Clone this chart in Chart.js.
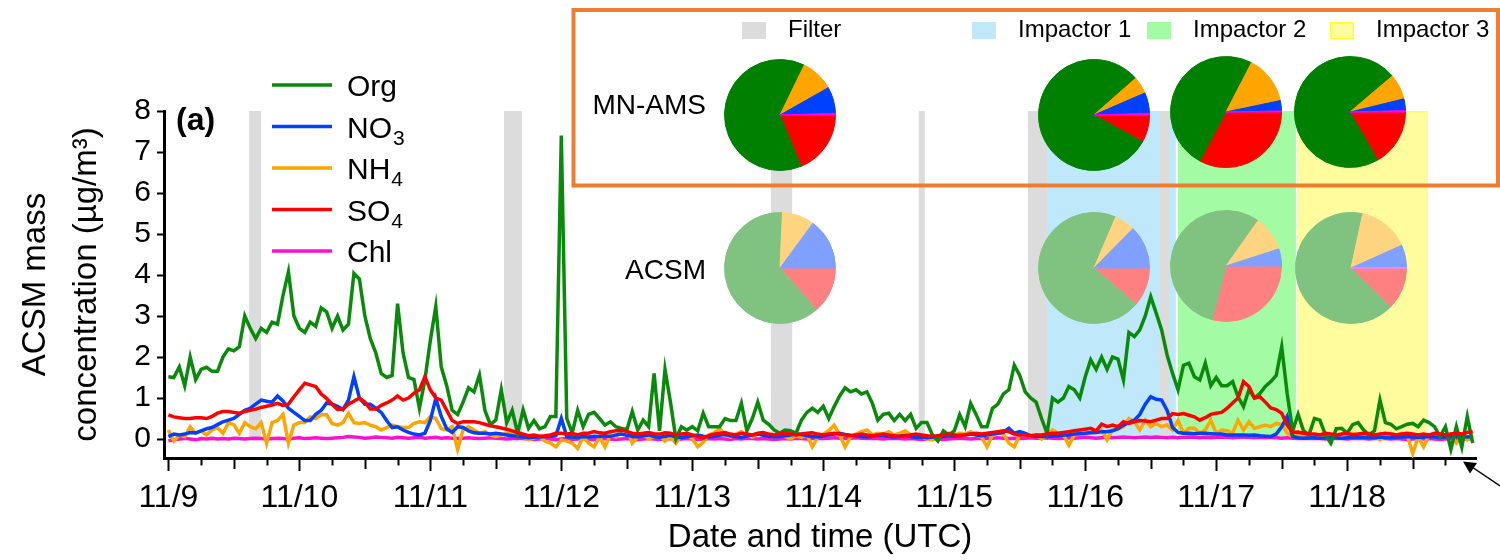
<!DOCTYPE html>
<html>
<head>
<meta charset="utf-8">
<script src="https://cdn.jsdelivr.net/npm/chart.js@4.4.1/dist/chart.umd.min.js"></script>
<style>
  html, body { margin: 0; padding: 0; background: #fff; }
  #wrap { position: relative; width: 1500px; height: 560px; }
  #wrap canvas { position: absolute; }
</style>
</head>
<body>
<div id="wrap">
  <canvas id="main" width="1500" height="560" style="left:0;top:0"></canvas>
</div>
<script>
// Fonte e cores
const FONT = "'Liberation Sans', Arial, sans-serif";

// --- DADOS ---
const dayLabels = ['11/9', '11/10', '11/11', '11/12', '11/13', '11/14', '11/15', '11/16', '11/17', '11/18'];
const yTickValues = [0, 1, 2, 3, 4, 5, 6, 7, 8];
const seriesNames = ['Org', 'NO3', 'NH4', 'SO4', 'Chl'];

// hourly values from 11/9 00:00 UTC (one per hour, 240 points)
const org = [
  1.52,1.5,1.76,1.3,2.0,1.45,1.7,1.75,1.65,1.65,
  2.0,2.2,2.15,2.25,3.0,2.7,2.45,2.7,2.6,2.85,
  2.8,3.5,4.08,3.0,2.7,2.6,2.85,2.75,3.2,3.1,
  2.7,3.0,2.66,2.8,4.04,3.9,3.0,2.45,2.1,1.6,
  1.5,1.55,3.3,2.1,1.5,1.45,0.75,1.44,2.4,3.23,
  1.76,1.3,0.7,0.6,0.9,1.25,1.15,1.56,0.7,0.35,
  0.46,1.2,0.4,0.7,0.14,0.71,0.26,0.45,0.25,0.3,
  0.55,0.55,7.4,0.5,0.15,0.7,0.3,0.6,0.65,0.5,
  0.34,0.42,0.3,0.26,0.22,0.67,0.22,0.46,0.3,1.6,
  0.2,1.7,0.9,0.0,0.3,0.22,0.3,0.2,0.63,0.3,
  0.3,0.3,0.5,0.45,0.45,0.87,0.2,0.5,0.9,0.46,
  0.36,0.22,0.14,0.22,0.2,0.14,0.46,0.65,0.75,0.65,
  0.8,0.5,0.79,1.05,1.25,1.15,1.2,1.1,1.15,0.87,
  0.46,0.6,0.63,0.45,0.6,0.45,0.6,0.26,0.4,0.4,
  0.1,-0.05,0.2,0.1,0.2,0.59,0.3,0.87,0.6,0.3,
  0.3,0.75,0.85,1.1,1.2,1.8,1.55,1.15,1.0,0.9,
  0.5,0.14,1.0,0.9,1.0,1.28,1.2,1.0,1.52,1.93,
  1.7,2.0,1.7,2.0,1.95,1.44,2.6,2.5,2.66,3.0,
  3.47,3.07,2.66,2.05,1.6,1.2,1.8,1.85,1.52,1.44,
  1.85,1.3,1.5,1.3,1.3,1.4,1.03,0.79,1.2,1.0,
  1.11,1.28,1.4,1.55,2.25,1.11,0.2,0.6,0.2,0.1,
  0.5,0.46,0.1,-0.1,0.25,0.26,0.14,0.35,0.4,0.22,
  0.1,0.2,0.95,0.4,0.36,0.25,0.3,0.36,0.38,0.3,
  0.46,0.4,0.3,0.06,0.3,-0.25,0.3,-0.2,0.55,-0.1
];
const no3 = [
  0.06,0.12,0.1,0.12,0.16,0.15,0.2,0.25,0.28,0.35,
  0.42,0.46,0.5,0.6,0.7,0.75,0.85,0.95,0.92,0.9,
  1.05,0.93,0.75,0.65,0.55,0.45,0.45,0.6,0.7,0.88,
  0.85,0.8,0.72,0.95,1.52,1.0,0.85,0.85,0.75,0.65,
  0.45,0.28,0.3,0.22,0.16,0.12,0.1,0.14,0.45,0.99,
  0.55,0.25,0.16,0.3,0.28,0.2,0.15,0.14,0.14,0.12,
  0.14,0.12,0.1,0.08,0.06,0.05,0.03,0.04,0.05,0.06,
  0.06,0.08,0.5,0.06,0.05,0.04,0.06,0.05,0.07,0.06,
  0.08,0.06,0.1,0.12,0.09,0.07,0.05,0.08,0.1,0.06,
  0.04,0.07,0.09,0.05,0.03,0.06,0.08,0.1,0.07,0.05,
  0.06,0.09,0.11,0.08,0.06,0.04,0.07,0.1,0.12,0.09,
  0.07,0.05,0.06,0.08,0.1,0.13,0.11,0.08,0.06,0.05,
  0.07,0.1,0.12,0.14,0.11,0.09,0.08,0.06,0.05,0.07,
  0.09,0.08,0.06,0.05,0.07,0.09,0.06,0.04,0.05,0.03,
  0.05,0.04,0.06,0.08,0.07,0.09,0.1,0.12,0.1,0.08,
  0.1,0.12,0.14,0.16,0.26,0.14,0.18,0.14,0.08,0.07,
  0.06,0.06,0.07,0.08,0.1,0.1,0.12,0.13,0.14,0.15,
  0.16,0.18,0.18,0.2,0.25,0.34,0.4,0.46,0.6,0.85,
  1.03,0.97,0.95,0.7,0.28,0.16,0.14,0.14,0.13,0.14,
  0.14,0.13,0.12,0.12,0.1,0.1,0.1,0.1,0.09,0.1,
  0.08,0.07,0.06,0.12,0.3,0.55,0.06,0.03,0.02,0.03,
  0.03,0.02,0.03,0.04,0.03,0.02,0.03,0.04,0.05,0.04,
  0.03,0.04,0.05,0.04,0.03,0.04,0.05,0.06,0.05,0.04,
  0.05,0.06,0.05,0.04,0.05,0.06,0.07,0.06,0.05,0.06
];
const nh4 = [
  0.22,-0.05,0.1,0.06,0.3,0.14,0.2,0.1,0.22,0.28,
  0.14,0.4,0.35,0.14,0.4,0.3,0.25,0.4,-0.1,0.4,
  0.45,0.6,-0.1,0.34,0.4,0.4,0.54,0.5,0.59,0.59,
  0.38,0.34,0.4,0.63,0.4,0.38,0.4,0.34,0.3,0.22,
  0.28,0.34,0.3,0.28,0.28,0.38,0.42,0.4,0.55,0.5,
  0.25,0.22,0.3,-0.25,0.22,0.3,0.22,0.14,0.18,0.1,
  0.06,0.1,0.14,0.12,0.1,0.05,-0.02,0.02,0.06,-0.05,
  -0.1,-0.19,-0.02,-0.05,-0.1,-0.23,0.06,-0.1,-0.19,0.05,
  -0.19,0.1,0.05,0.2,0.26,-0.1,0.05,0.12,0.0,0.06,
  0.1,-0.05,0.05,-0.1,0.08,0.12,0.0,-0.19,-0.08,0.1,
  0.15,0.26,0.1,0.05,0.12,0.18,0.1,0.05,0.12,0.14,
  0.08,0.05,0.1,0.06,0.0,0.08,0.04,0.1,-0.19,0.05,
  0.12,0.2,0.34,0.1,-0.19,0.05,0.12,0.18,0.22,0.1,
  0.14,0.12,0.18,0.1,0.14,0.2,0.1,0.06,0.05,0.0,
  -0.02,0.08,0.1,0.14,0.1,0.14,0.12,0.18,0.1,0.05,
  -0.19,0.1,0.14,0.12,-0.1,-0.19,0.1,0.14,0.06,0.1,
  0.0,0.1,0.22,0.14,0.1,-0.15,0.1,0.14,0.14,0.16,
  0.18,0.22,-0.02,0.22,0.25,0.3,0.5,0.42,0.22,0.46,
  0.3,0.38,0.3,0.34,0.22,0.46,0.14,0.26,0.26,0.14,
  0.22,0.46,0.14,0.22,0.2,0.14,0.46,0.22,0.42,0.26,
  0.3,0.34,0.3,0.38,0.35,0.14,0.06,0.1,0.08,0.1,
  0.06,0.1,0.14,0.1,0.05,0.12,0.1,0.14,0.1,0.05,
  0.14,0.1,-0.02,0.08,0.14,0.1,0.14,0.1,-0.35,0.05,
  -0.19,0.1,0.06,0.1,0.08,0.12,-0.1,0.05,-0.02,0.1
];
const so4 = [
  0.59,0.54,0.52,0.5,0.5,0.52,0.52,0.5,0.55,0.63,
  0.67,0.67,0.65,0.63,0.67,0.7,0.73,0.77,0.8,0.83,
  0.87,0.82,0.85,1.03,1.2,1.36,1.32,1.28,1.1,0.99,
  0.85,0.72,0.73,0.85,0.92,1.0,0.9,0.73,0.73,0.82,
  0.88,0.95,1.05,0.95,1.0,1.12,1.2,1.52,1.2,1.0,
  0.95,0.7,0.45,0.38,0.42,0.42,0.42,0.4,0.36,0.32,
  0.3,0.27,0.24,0.2,0.16,0.12,0.08,0.1,0.07,0.08,
  0.1,0.14,0.14,0.12,0.14,0.1,0.14,0.14,0.18,0.15,
  0.14,0.18,0.2,0.22,0.18,0.14,0.12,0.14,0.16,0.13,
  0.12,0.15,0.14,0.1,0.12,0.14,0.1,0.06,0.02,0.08,
  0.12,0.14,0.16,0.12,0.1,0.14,0.12,0.1,0.14,0.16,
  0.12,0.1,0.12,0.14,0.12,0.1,0.12,0.14,0.15,0.12,
  0.1,0.12,0.14,0.12,0.1,0.08,0.1,0.12,0.1,0.08,
  0.1,0.12,0.1,0.08,0.06,0.08,0.1,0.12,0.1,0.08,
  0.06,0.08,0.1,0.12,0.1,0.08,0.1,0.12,0.14,0.12,
  0.14,0.16,0.18,0.2,0.18,0.12,0.1,0.1,0.08,0.1,
  0.1,0.12,0.14,0.14,0.16,0.18,0.2,0.22,0.24,0.26,
  0.2,0.36,0.3,0.34,0.3,0.42,0.38,0.42,0.45,0.44,
  0.42,0.46,0.5,0.5,0.62,0.6,0.62,0.58,0.54,0.46,
  0.52,0.6,0.63,0.65,0.75,0.88,1.0,1.4,1.28,1.0,
  1.03,0.9,0.76,0.72,0.63,0.34,0.16,0.17,0.14,0.12,
  0.12,0.1,0.14,0.12,0.1,0.12,0.14,0.1,0.12,0.14,
  0.12,0.1,0.12,0.14,0.12,0.1,0.12,0.14,0.12,0.1,
  0.12,0.1,0.14,0.12,0.1,0.12,0.14,0.12,0.16,0.18
];
const chl = [
  -0.04,-0.02,0.0,0.02,0.0,-0.02,0.01,0.0,0.02,0.0,
  0.01,0.0,0.02,0.01,0.0,0.01,0.02,0.01,0.0,0.01,
  0.02,0.01,0.0,0.02,0.03,0.01,0.02,0.03,0.02,0.01,
  0.02,0.03,0.04,0.06,0.05,0.04,0.02,0.03,0.05,0.04,
  0.03,0.02,0.04,0.03,0.02,0.03,0.04,0.02,0.03,0.04,
  0.02,0.03,0.02,0.01,0.02,0.03,0.02,0.01,0.02,0.03,
  0.02,0.01,0.0,0.01,0.02,0.01,0.0,-0.01,0.0,0.01,
  0.0,-0.02,0.0,0.01,-0.01,0.0,0.01,0.0,-0.02,0.0,
  0.01,0.0,-0.01,0.0,0.01,0.0,-0.02,0.0,0.01,0.0,
  -0.01,0.0,0.01,-0.02,0.0,0.01,0.0,-0.01,0.0,0.01,
  0.0,0.01,0.0,-0.01,0.01,0.0,0.02,0.01,0.0,0.01,
  0.0,-0.01,0.0,0.01,0.0,0.02,0.01,0.0,0.01,0.02,
  0.01,0.02,0.03,0.02,0.01,0.02,0.03,0.02,0.01,0.02,
  0.01,0.0,0.01,0.02,0.01,0.0,0.01,0.0,-0.01,0.0,
  0.01,0.0,-0.01,0.0,0.01,0.02,0.01,0.0,0.01,0.02,
  0.01,0.02,0.03,0.02,0.01,0.02,0.01,0.02,0.03,0.02,
  0.02,0.03,0.02,0.01,0.02,0.03,0.02,0.03,0.04,0.03,
  0.02,0.03,0.04,0.03,0.04,0.05,0.04,0.03,0.04,0.05,
  0.04,0.05,0.04,0.03,0.04,0.03,0.04,0.05,0.04,0.03,
  0.04,0.03,0.04,0.05,0.04,0.03,0.04,0.05,0.04,0.03,
  0.04,0.03,0.04,0.03,0.02,0.03,0.02,0.01,0.02,0.01,
  0.02,0.01,0.0,0.01,0.02,0.01,0.0,0.01,0.02,0.01,
  0.0,0.01,0.02,0.01,0.0,0.01,0.0,-0.01,0.0,0.01,
  0.0,0.01,0.0,-0.01,0.0,0.01,0.0,0.01,0.0,0.01
];

// sampling periods (hours since 11/9 00:00)
const filterStart = [14.8, 61.5, 110.4, 137.5, 157.5, 181.7];
const filterEnd   = [17.0, 64.8, 114.3, 138.6, 161.0, 183.4];
const impactorNames = ['Impactor 1', 'Impactor 2', 'Impactor 3'];
const impactorStart = [161.0, 185.0, 206.8];
const impactorEnd   = [184.6, 206.6, 230.8];

// pie fractions (%) for Filter, Impactor 1, Impactor 2, Impactor 3
const amsOrg = [63.5, 80.5, 49.8, 72.1];
const amsNO3 = [7.7, 6.0, 3.0, 3.4];
const amsNH4 = [9.6, 5.0, 14.1, 7.4];
const amsSO4 = [18.8, 8.0, 32.8, 16.7];
const amsChl = [0.5, 0.5, 0.3, 0.4];
const acsmOrg = [62.1, 70.1, 55.8, 66.0];
const acsmNO3 = [14.9, 12.6, 5.0, 6.6];
const acsmNH4 = [9.4, 6.0, 10.2, 14.9];
const acsmSO4 = [13.6, 11.3, 29.0, 12.4];
const acsmChl = [0.0, 0.0, 0.0, 0.1];

// --- ESTILO ---
const lineColors = ['#0a8a0a', '#0040ff', '#ffa500', '#ff0000', '#ff10d0'];
const amsColors  = { org: '#008000', no3: '#0040ff', nh4: '#ffa500', so4: '#ff0000', chl: '#ff00ff' };
const acsmColors = { org: '#80c380', no3: '#80a0ff', nh4: '#ffd480', so4: '#ff8080', chl: '#ff80ff' };
const filterColor = '#dcdcdc';
const impactorColors = ['#c0e8fb', '#a3fca3', '#fffc9e'];
const boxColor = '#ed7d31';
const LINE_W = 3.5;

// pie centres in page pixels
const amsCentres  = [[780, 115], [1094, 115], [1226, 112], [1350, 112]];
const acsmCentres = [[780, 268], [1094, 268], [1226, 266], [1351, 268]];

const xTickHours = [];
dayLabels.forEach((d, i) => { [0, 6, 12, 18].forEach(h => xTickHours.push(i * 24 + h)); });

const toXY = arr => arr.map((v, i) => ({ x: i, y: v }));

// --- PLUGIN: sombreamento, legendas, caixa, seta ---
const decor = {
  id: 'decor',
  beforeDatasetsDraw(chart) {
    const { ctx, scales: { x, y } } = chart;
    const top = y.getPixelForValue(8), bot = y.getPixelForValue(0);
    ctx.save();
    impactorStart.forEach((s, i) => {
      const x0 = x.getPixelForValue(s), x1 = x.getPixelForValue(impactorEnd[i]);
      ctx.fillStyle = impactorColors[i];
      ctx.fillRect(x0, top, x1 - x0, bot - top);
    });
    // thin yellow edge on top of the last impactor period
    const y0 = x.getPixelForValue(impactorStart[2]), y1 = x.getPixelForValue(impactorEnd[2]);
    ctx.fillStyle = '#ffff50';
    ctx.fillRect(y0, top, y1 - y0, 1.5);
    filterStart.forEach((s, i) => {
      const x0 = x.getPixelForValue(s), x1 = x.getPixelForValue(filterEnd[i]);
      ctx.fillStyle = filterColor;
      ctx.fillRect(x0, top, x1 - x0, bot - top);
    });
    ctx.restore();
  },
  afterDraw(chart) {
    const { ctx, scales: { x } } = chart;
    ctx.save();

    // x tick marks (6 h minor, 12 h medium, day major)
    ctx.strokeStyle = '#000';
    ctx.lineWidth = 2;
    xTickHours.forEach(h => {
      const px = Math.round(x.getPixelForValue(h)) + 0.5;
      const len = h % 24 === 0 ? 13 : (h % 12 === 0 ? 11 : 7.5);
      ctx.beginPath();
      ctx.moveTo(px, x.top);
      ctx.lineTo(px, x.top + len);
      ctx.stroke();
    });

    // (a)
    ctx.fillStyle = '#000';
    ctx.textBaseline = 'middle';
    ctx.font = `bold 32px ${FONT}`;
    ctx.fillText('(a)', 176, 121);

    // series legend
    ctx.textBaseline = 'alphabetic';
    seriesNames.forEach((name, i) => {
      const ly = 85 + i * 41.5;
      ctx.strokeStyle = lineColors[i];
      ctx.lineWidth = LINE_W;
      ctx.beginPath();
      ctx.moveTo(272, ly);
      ctx.lineTo(332, ly);
      ctx.stroke();
      const m = name.match(/^(\D+)(\d*)$/);
      ctx.fillStyle = '#000';
      ctx.font = `30px ${FONT}`;
      ctx.fillText(m[1], 347, ly + 11);
      if (m[2]) {
        const w = ctx.measureText(m[1]).width;
        ctx.font = `21px ${FONT}`;
        ctx.fillText(m[2], 348 + w, ly + 18);
      }
    });

    // orange box
    ctx.strokeStyle = boxColor;
    ctx.lineWidth = 4;
    ctx.strokeRect(573.5, 10, 1498 - 573.5, 175.5);

    // box legend
    ctx.font = `24px ${FONT}`;
    ctx.textBaseline = 'middle';
    const keyItems = [['Filter', filterColor, 742]].concat(
      impactorNames.map((n, i) => [n, impactorColors[i], [972, 1147, 1330][i]]));
    keyItems.forEach(([label, col, kx]) => {
      ctx.fillStyle = col;
      ctx.fillRect(kx, 22, 24, 17);
      if (label === 'Impactor 3') {
        ctx.strokeStyle = '#ffff30';
        ctx.lineWidth = 1.5;
        ctx.strokeRect(kx + 0.75, 22.75, 22.5, 15.5);
      }
      ctx.fillStyle = '#000';
      ctx.fillText(label, kx + 46, 30);
    });

    // instrument labels
    ctx.font = `28px ${FONT}`;
    ctx.textAlign = 'right';
    ctx.fillText('MN-AMS', 706, 106);
    ctx.fillText('ACSM', 706, 271);

    // arrow at lower right
    ctx.strokeStyle = '#000';
    ctx.fillStyle = '#000';
    ctx.lineWidth = 1.5;
    ctx.beginPath();
    ctx.moveTo(1500, 486);
    ctx.lineTo(1472, 467);
    ctx.stroke();
    ctx.beginPath();
    ctx.moveTo(1463, 461.5);
    ctx.lineTo(1477, 463);
    ctx.lineTo(1470, 473.5);
    ctx.closePath();
    ctx.fill();
    ctx.restore();
  }
};

const main = new Chart(document.getElementById('main'), {
  type: 'line',
  data: {
    datasets: [org, no3, nh4, so4, chl].map((arr, i) => ({
      label: seriesNames[i],
      data: toXY(arr),
      borderColor: lineColors[i],
      borderWidth: LINE_W,
      pointRadius: 0,
      tension: 0,
      order: [1, 2, 3, 0, 4][i]
    }))
  },
  options: {
    responsive: false,
    animation: false,
    layout: { padding: { left: 0, top: 111, right: 24, bottom: 0 } },
    plugins: { legend: { display: false }, tooltip: { enabled: false } },
    scales: {
      x: {
        type: 'linear',
        min: -0.8,
        max: 239.6,
        afterFit: s => { s.height = 102; },
        afterBuildTicks: s => { s.ticks = xTickHours.map(v => ({ value: v })); },
        ticks: {
          autoSkip: false, maxRotation: 0, minRotation: 0, padding: 8,
          color: '#000', font: { family: FONT, size: 32 },
          callback: v => (v % 24 === 0 ? dayLabels[v / 24] : '')
        },
        grid: { drawOnChartArea: false, drawTicks: true, tickLength: 13, tickColor: 'rgba(0,0,0,0)' },
        border: { display: true, color: '#000', width: 3 },
        title: {
          display: true, text: 'Date and time (UTC)', color: '#000',
          font: { family: FONT, size: 33, lineHeight: 1.2 }, padding: { top: 0, bottom: 2 }
        }
      },
      y: {
        min: -0.463,
        max: 8,
        afterFit: s => { s.width = 164; },
        afterBuildTicks: s => { s.ticks = yTickValues.map(v => ({ value: v })); },
        ticks: { padding: 6, color: '#000', font: { family: FONT, size: 30 }, callback: v => String(v) },
        grid: { drawOnChartArea: false, drawTicks: true, tickLength: 7, tickWidth: 2, tickColor: '#000' },
        border: { display: true, color: '#000', width: 3 },
        title: {
          display: true, text: ['ACSM mass', 'concentration (µg/m³)'], color: '#000',
          font: { family: FONT, size: 33, lineHeight: 1.55 }, padding: { top: 10, bottom: 0 }
        }
      }
    }
  },
  plugins: [decor]
});

// --- PIZZAS ---
const PIE = 112;
function makePie(centre, values, colors) {
  const cv = document.createElement('canvas');
  cv.width = PIE; cv.height = PIE;
  cv.style.left = (centre[0] - PIE / 2) + 'px';
  cv.style.top = (centre[1] - PIE / 2) + 'px';
  document.getElementById('wrap').appendChild(cv);
  new Chart(cv, {
    type: 'pie',
    data: {
      labels: ['SO4', 'Org', 'NH4', 'NO3', 'Chl'],
      datasets: [{ data: values, backgroundColor: colors, borderColor: colors, borderWidth: 1 }]
    },
    options: {
      responsive: false, animation: false, rotation: 90,
      layout: { padding: 0 },
      plugins: { legend: { display: false }, tooltip: { enabled: false } }
    }
  });
}
amsCentres.forEach((c, i) => makePie(c,
  [amsSO4[i], amsOrg[i], amsNH4[i], amsNO3[i], amsChl[i]],
  [amsColors.so4, amsColors.org, amsColors.nh4, amsColors.no3, amsColors.chl]));
acsmCentres.forEach((c, i) => makePie(c,
  [acsmSO4[i], acsmOrg[i], acsmNH4[i], acsmNO3[i], acsmChl[i]],
  [acsmColors.so4, acsmColors.org, acsmColors.nh4, acsmColors.no3, acsmColors.chl]));
</script>
</body>
</html>
